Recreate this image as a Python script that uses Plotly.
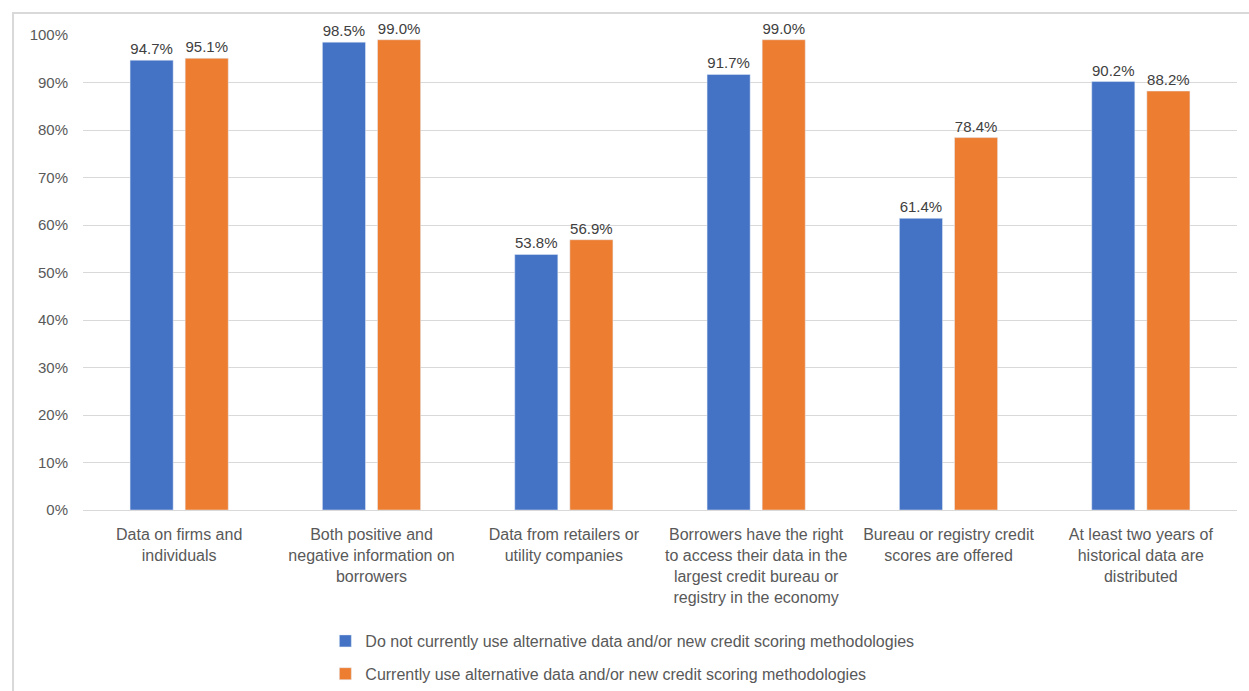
import plotly.graph_objects as go

categories = [
    "Data on firms and<br>individuals",
    "Both positive and<br>negative information on<br>borrowers",
    "Data from retailers or<br>utility companies",
    "Borrowers have the right<br>to access their data in the<br>largest credit bureau or<br>registry in the economy",
    "Bureau or registry credit<br>scores are offered",
    "At least two years of<br>historical data are<br>distributed",
]
series_names = [
    "Do not currently use alternative data and/or new credit scoring methodologies",
    "Currently use alternative data and/or new credit scoring methodologies",
]
not_using = [94.7, 98.5, 53.8, 91.7, 61.4, 90.2]
using = [95.1, 99.0, 56.9, 99.0, 78.4, 88.2]
y_ticks = [0, 10, 20, 30, 40, 50, 60, 70, 80, 90, 100]
y_tick_labels = ["0%", "10%", "20%", "30%", "40%", "50%", "60%", "70%", "80%", "90%", "100%"]
colors = ["#4472C4", "#ED7D31"]

FONT = "Liberation Sans"
fig = go.Figure()
for name, vals, col in zip(series_names, [not_using, using], colors):
    fig.add_trace(go.Bar(
        x=categories, y=vals, name=name, marker_color=col,
        text=[f"{v:.1f}%" for v in vals], textposition="outside",
        textfont=dict(size=15, color="#404040", family=FONT),
        cliponaxis=False, legendgroup=name,
    ))

fig.update_layout(
    width=1249, height=691,
    margin=dict(l=83, r=12, t=35, b=181, autoexpand=False),
    paper_bgcolor="white", plot_bgcolor="white",
    barmode="group", bargap=0.427, bargroupgap=0.218,
    font=dict(family=FONT, size=15, color="#595959"),
    showlegend=True,
    legend=dict(orientation="v", x=0.21, y=-0.24, xanchor="left", yanchor="top",
                font=dict(size=16, color="#595959", family=FONT),
                tracegroupgap=9, itemwidth=30, bgcolor="rgba(0,0,0,0)"),
    xaxis=dict(showgrid=False, showline=True, linecolor="#D9D9D9", linewidth=1,
               tickfont=dict(size=16, color="#595959"), ticks="", ticklabelstandoff=10,
               automargin=False),
    yaxis=dict(range=[0, 100], tickvals=y_ticks, ticktext=y_tick_labels,
               showgrid=True, gridcolor="#D9D9D9", gridwidth=1,
               zeroline=False, showline=False, ticks="", automargin=False,
               tickfont=dict(size=15, color="#595959"), ticklabelstandoff=14),
    shapes=[dict(type="rect", xref="paper", yref="paper",
                 x0=(13 - 83) / 1154, x1=1.05, y0=-0.5, y1=(510 - 13) / 475,
                 line=dict(color="#D9D9D9", width=2), fillcolor="rgba(0,0,0,0)", layer="below")],
)
fig.write_html("out.html")
